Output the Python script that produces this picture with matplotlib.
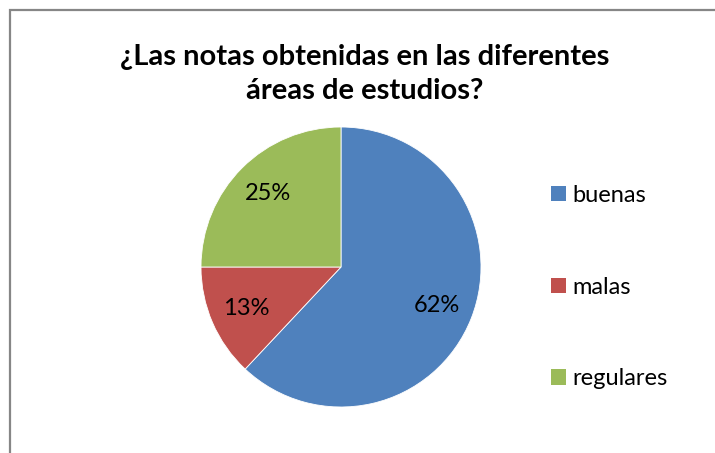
import matplotlib.pyplot as plt
from matplotlib.patches import Rectangle, Patch

categories = ['buenas', 'malas', 'regulares']
values = [62, 13, 25]
colors = ['#4f81bd', '#c0504d', '#9bbb59']
title = '¿Las notas obtenidas en las diferentes\náreas de estudios?'

plt.rcParams['font.family'] = ['Lato', 'DejaVu Sans']

W, H = 715, 453
fig = plt.figure(figsize=(W / 100, H / 100), dpi=100)

# chart area border (only left and top edges visible in the crop)
fig.patches.append(Rectangle((10 / W, -0.2), 1.2, 1 - 10 / H + 0.2,
                             transform=fig.transFigure, fill=False,
                             edgecolor='#868686', linewidth=1.6))

# pie: centre (341, 267), radius 140 px
ax = fig.add_axes([201 / W, (H - 407) / H, 280 / W, 280 / H])
wedges, texts, autotexts = ax.pie(values, colors=colors, startangle=90,
                                  counterclock=False, autopct='%1.0f%%',
                                  pctdistance=0.74,
                                  wedgeprops=dict(linewidth=0.6, edgecolor='white'),
                                  textprops=dict(fontsize=17, color='black'))
ax.set_xlim(-1, 1)
ax.set_ylim(-1, 1)

fig.text(365 / W, 1 - 74 / H, title, ha='center', va='center',
         fontsize=21, fontweight='bold', linespacing=1.4)

handles = [Patch(facecolor=c) for c in colors]
fig.legend(handles, categories, loc='center left',
           bbox_to_anchor=(551 / W, 1 - 287 / H), frameon=False,
           borderaxespad=0, borderpad=0,
           fontsize=17, labelspacing=3.0, handlelength=0.62,
           handleheight=0.62, handletextpad=0.3)

fig.savefig('out.png', dpi=100)
